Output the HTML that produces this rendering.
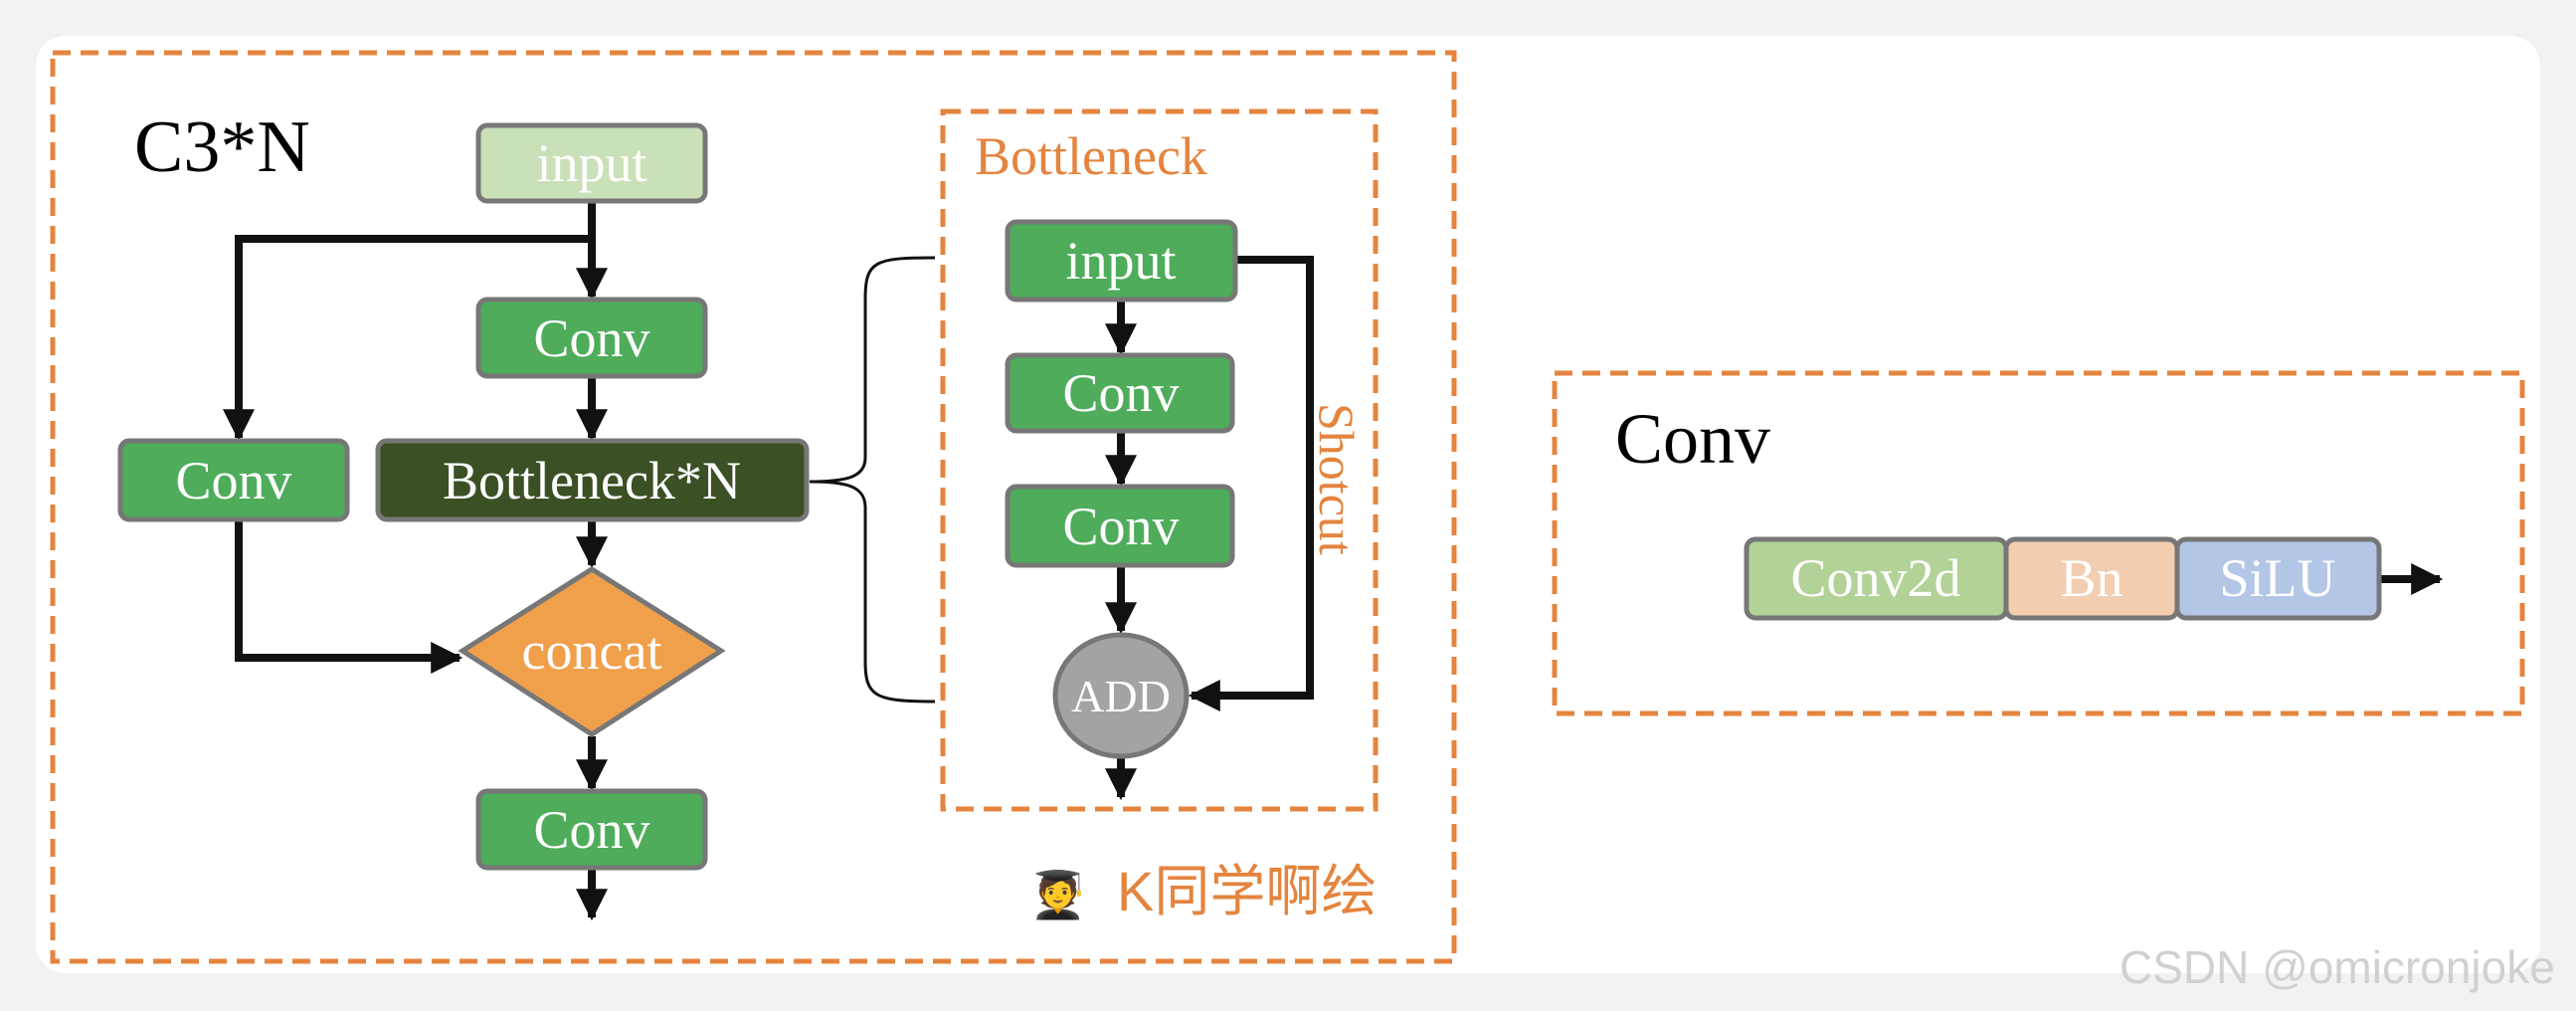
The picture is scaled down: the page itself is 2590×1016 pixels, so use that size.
<!DOCTYPE html>
<html><head><style>
body{margin:0;background:#f2f2f2;}
</style></head><body>
<svg width="2590" height="1016" xmlns="http://www.w3.org/2000/svg" style="display:block">
<defs>
<marker id="a" viewBox="0 0 10 10" refX="9" refY="5" markerWidth="4" markerHeight="4.5" orient="auto" markerUnits="strokeWidth"><path d="M0,0L10,5L0,10z" fill="#111"/></marker>
</defs>
<rect x="36" y="36" width="2518" height="942" rx="30" fill="#fff"/>
<g fill="none" stroke="#e4843e" stroke-width="5" stroke-dasharray="18,10">
<rect x="53" y="53" width="1409" height="913"/>
<rect x="948" y="112" width="435" height="701"/>
<rect x="1563" y="375" width="973" height="342"/>
</g>
<g font-family="Liberation Serif, serif">
<text x="135" y="172" font-size="74" fill="#000">C3*N</text>
<text x="980" y="175" font-size="54" fill="#e4843e">Bottleneck</text>
<text x="1624" y="465" font-size="72" fill="#000">Conv</text>
<text transform="translate(1327,405) rotate(90)" font-size="50" fill="#e4843e">Shotcut</text>
</g>
<g stroke="#111" stroke-width="8" fill="none">
<line x1="595" y1="202" x2="595" y2="298" marker-end="url(#a)"/>
<polyline points="595,240 240,240 240,440" marker-end="url(#a)"/>
<line x1="595" y1="378" x2="595" y2="440" marker-end="url(#a)"/>
<line x1="595" y1="522" x2="595" y2="568" marker-end="url(#a)"/>
<polyline points="240,522 240,661 462,661" marker-end="url(#a)"/>
<line x1="595" y1="740" x2="595" y2="792" marker-end="url(#a)"/>
<line x1="595" y1="872" x2="595" y2="922" marker-end="url(#a)"/>
<line x1="1127" y1="301" x2="1127" y2="354" marker-end="url(#a)"/>
<line x1="1127" y1="433" x2="1127" y2="486" marker-end="url(#a)"/>
<line x1="1127" y1="568" x2="1127" y2="634" marker-end="url(#a)"/>
<line x1="1127" y1="760" x2="1127" y2="801" marker-end="url(#a)"/>
<polyline points="1242,261 1317,261 1317,699 1198,699" marker-end="url(#a)"/>
<line x1="2392" y1="582" x2="2453" y2="582" marker-end="url(#a)"/>
</g>
<path d="M940,259 C880,259 870,262 870,300 L870,460 C870,480 850,484 814,484 C850,484 870,488 870,510 L870,665 C870,700 880,705 940,705" fill="none" stroke="#111" stroke-width="3"/>
<g stroke="#777" stroke-width="5">
<rect x="481" y="126" width="228" height="76" rx="9" fill="#c9e0b8"/>
<rect x="481" y="301" width="228" height="77" rx="9" fill="#4eac5b"/>
<rect x="380" y="443" width="431" height="79" rx="9" fill="#3b5024"/>
<rect x="121" y="443" width="228" height="79" rx="9" fill="#4eac5b"/>
<polygon points="595,572 725,654 595,738 465,654" fill="#f0a04b"/>
<rect x="481" y="795" width="228" height="77" rx="9" fill="#4eac5b"/>
<rect x="1013" y="223" width="229" height="78" rx="9" fill="#4eac5b"/>
<rect x="1013" y="357" width="226" height="76" rx="9" fill="#4eac5b"/>
<rect x="1013" y="489" width="226" height="79" rx="9" fill="#4eac5b"/>
<ellipse cx="1127" cy="699" rx="66" ry="61" fill="#a3a3a3"/>
<rect x="1756" y="542" width="261" height="79" rx="9" fill="#b2d297"/>
<rect x="2017" y="542" width="172" height="79" rx="9" fill="#f2cdb0"/>
<rect x="2189" y="542" width="203" height="79" rx="9" fill="#b4c6e6"/>
</g>
<g font-family="Liberation Serif, serif" font-size="54" fill="#fff" text-anchor="middle">
<text x="595" y="182">input</text>
<text x="595" y="358">Conv</text>
<text x="595" y="501">Bottleneck*N</text>
<text x="235" y="501">Conv</text>
<text x="595" y="672">concat</text>
<text x="595" y="852">Conv</text>
<text x="1127" y="280">input</text>
<text x="1127" y="413">Conv</text>
<text x="1127" y="547">Conv</text>
<text x="1127" y="715" font-size="46">ADD</text>
<text x="1886" y="599">Conv2d</text>
<text x="2103" y="599">Bn</text>
<text x="2290" y="599">SiLU</text>
</g>
<text x="1035" y="915" font-size="46" font-family="DejaVu Sans, sans-serif">🧑‍🎓</text>
<text x="1123" y="915" font-size="56" fill="#e4843e" font-family="Liberation Sans, Noto Sans CJK SC, sans-serif">K同学啊绘</text>
<text x="2131" y="988" font-size="46" fill="#d0d0d0" font-family="Liberation Sans, sans-serif">CSDN @omicronjoke</text>
</svg>
</body></html>
